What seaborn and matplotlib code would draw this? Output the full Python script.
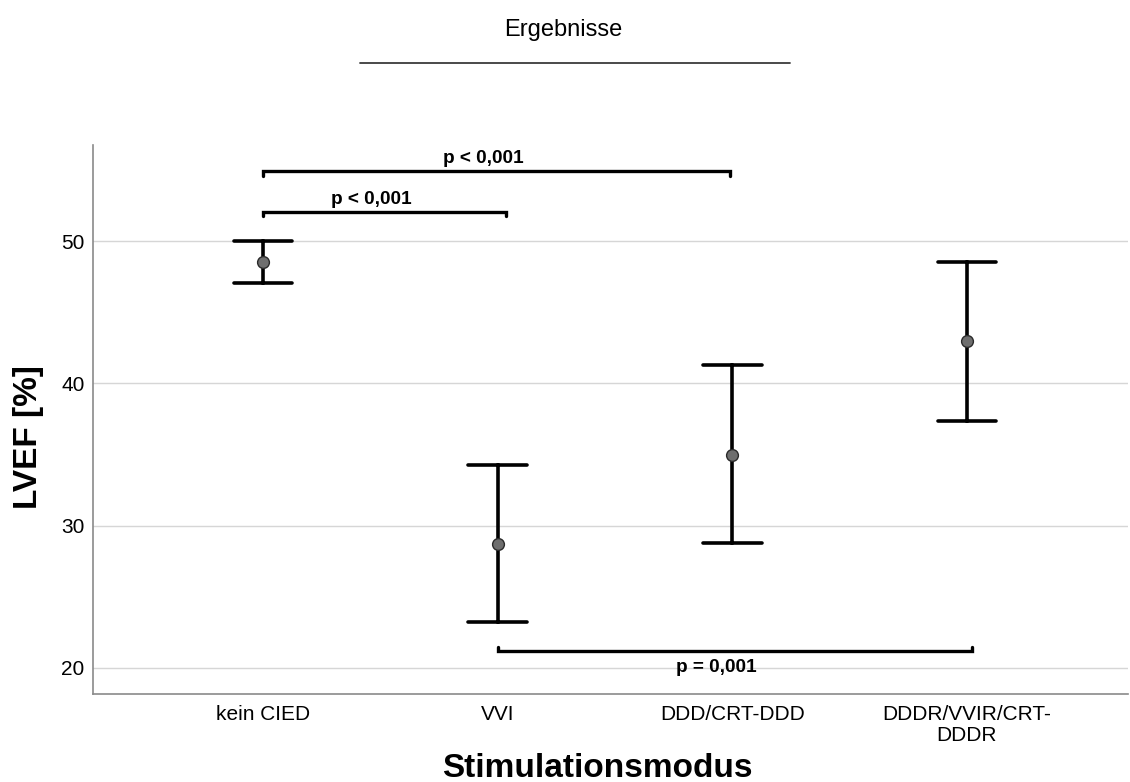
import numpy as np
import pandas as pd
import seaborn as sns
import matplotlib
matplotlib.use("Agg")
import matplotlib.pyplot as plt
from matplotlib.lines import Line2D

# LVEF by pacing mode: mean with 95% CI limits
categories = ["kein CIED", "VVI", "DDD/CRT-DDD", "DDDR/VVIR/CRT-\nDDDR"]
mean_lvef = [48.55, 28.7, 35.0, 42.95]
ci_lower = [47.05, 23.2, 28.75, 37.35]
ci_upper = [50.0, 34.25, 41.3, 48.5]

# significance brackets: (from group, to group, height, label)
bracket_from = [0, 0, 1]
bracket_to = [2, 1, 3]
bracket_y = [54.9, 52.05, 21.2]
bracket_labels = ["p < 0,001", "p < 0,001", "p = 0,001"]

sns.set_theme(style="white")
plt.rcParams["font.family"] = ["Liberation Sans", "DejaVu Sans"]
plt.rcParams.update({"text.color": "black", "axes.labelcolor": "black",
                     "xtick.color": "black", "ytick.color": "black"})

# long-form table: each group holds its lower limit, mean and upper limit,
# so the median is the mean and min/max give the interval
rows = []
for c, lo, m, hi in zip(categories, ci_lower, mean_lvef, ci_upper):
    for v in (lo, m, hi):
        rows.append({"Stimulationsmodus": c, "LVEF": v})
df = pd.DataFrame(rows)

fig = plt.figure(figsize=(11.3, 7.82), dpi=100)
ax = fig.add_axes([0.0823, 0.1125, 0.9159, 0.7021])

sns.pointplot(
    data=df, x="Stimulationsmodus", y="LVEF", order=categories,
    estimator=np.median, errorbar=lambda v: (v.min(), v.max()),
    linestyle="none", capsize=0.25, color="#6e6e6e",
    err_kws={"color": "black", "linewidth": 2.6},
    marker="o", markersize=8.5, markeredgecolor="#2a2a2a",
    markeredgewidth=1.0, ax=ax,
)
for coll in ax.collections:
    coll.set_zorder(4)
for ln in ax.lines:
    if ln.get_marker() == "o":
        ln.set_zorder(5)

ax.set_xlim(-0.724, 3.686)
ax.set_ylim(18.17, 56.75)
ax.set_yticks([20, 30, 40, 50])
ax.yaxis.grid(True, color="#d6d6d6", linewidth=1.0)
ax.set_axisbelow(True)
for s in ("top", "right"):
    ax.spines[s].set_visible(False)
for s in ("left", "bottom"):
    ax.spines[s].set_color("#8a8a8a")
    ax.spines[s].set_linewidth(1.2)
ax.tick_params(axis="both", length=0, labelsize=15, labelcolor="black")
ax.tick_params(axis="y", pad=6)
ax.tick_params(axis="x", pad=8)
for t in ax.get_xticklabels():
    t.set_linespacing(1.15)

ax.set_ylabel("LVEF [%]", fontsize=24, fontweight="bold")
ax.yaxis.set_label_coords(-0.047, 0.468)
ax.set_xlabel("Stimulationsmodus", fontsize=24, fontweight="bold")
ax.xaxis.set_label_coords(0.487, -0.151)
ax.xaxis.label.set_va("baseline")

# significance brackets
tick = 0.3
end_shift = [-0.01, 0.035, 0.02]
for i, (a, b, y, lab) in enumerate(zip(bracket_from, bracket_to, bracket_y, bracket_labels)):
    down = y > 30
    d = -tick if down else tick
    xe = b + end_shift[i]
    ax.plot([a, a, xe, xe], [y + d, y, y, y + d], color="black",
            linewidth=2.4, solid_joinstyle="miter", clip_on=False, zorder=3)
    if i == 0:
        ax.text(0.94, y + 0.6, lab, ha="center", va="baseline",
                fontsize=13.7, fontweight="bold")
    elif i == 1:
        ax.text(0.46, y + 0.55, lab, ha="center", va="baseline",
                fontsize=13.7, fontweight="bold")
    else:
        ax.text(1.93, y - 0.6, lab, ha="center", va="top",
                fontsize=13.7, fontweight="bold")

# heading with rule underneath
fig.text(563 / 1130, 1 - 30 / 782, "Ergebnisse", ha="center", va="center",
         fontsize=17)
fig.add_artist(Line2D([360 / 1130, 790 / 1130], [1 - 63 / 782, 1 - 63 / 782],
                      color="#3a3a3a", linewidth=1.3))

fig.savefig("out.png", dpi=100)
